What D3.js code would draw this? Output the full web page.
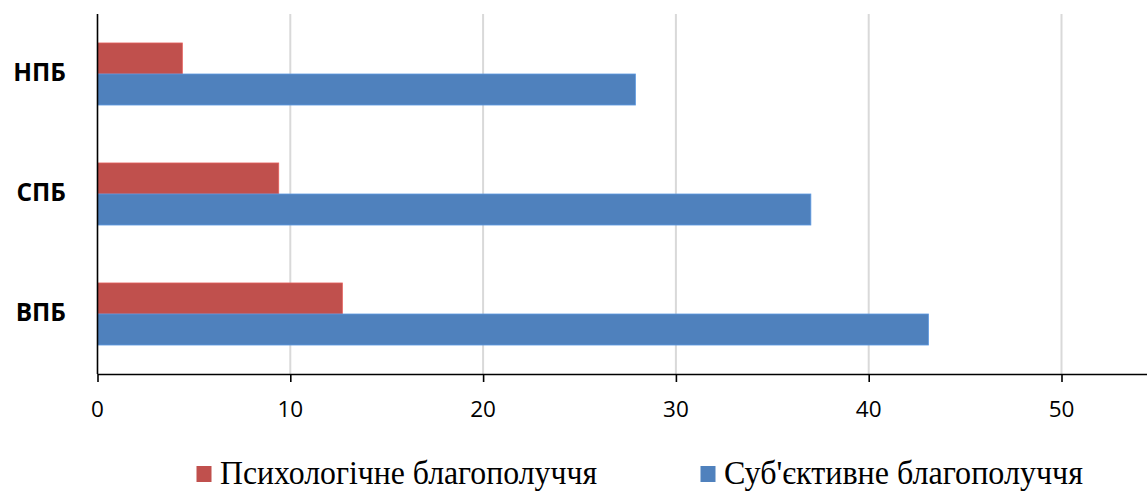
<!DOCTYPE html>
<html>
  <head>
    <meta charset="utf-8">
    <title>Благополуччя</title>
    <script src="https://cdn.jsdelivr.net/npm/d3@7"></script>
    <style>
      body { margin: 0; background: #fff; }
      #chart { display: block; }
      .grid line { stroke: #d9d9d9; stroke-width: 2; }
      .axis path, .axis line { stroke: #000; stroke-width: 1.6; }
      .xlabels text { font-family: "Open Sans", sans-serif; font-size: 22.5px; fill: #000; }
      .ylabels text { font-family: "Open Sans", sans-serif; font-size: 24.5px; font-weight: bold; fill: #000; }
      .legend text { font-family: "Liberation Serif", serif; font-size: 33px; fill: #000; }
    </style>
  </head>
  <body>
    <svg id="chart" width="1147" height="492"></svg>

    <script>
      // data
      categories = ["НПБ", "СПБ", "ВПБ"];
      seriesNames = ["Психологічне благополуччя", "Суб'єктивне благополуччя"];
      psychological = [4.4, 9.4, 12.7];
      subjective = [27.9, 37.0, 43.1];
      xTicks = [0, 10, 20, 30, 40, 50];
      colors = ["#c0504d", "#4f81bd"];

      chart = d3.select("#chart");
      margin = { top: 14, bottom: 118, left: 97.5 };
      height = 492;

      // axis runs past the right edge (60 is off-canvas)
      x = d3.scaleLinear()
        .domain([0, 60])
        .range([margin.left, margin.left + 60 * 19.28]);
      y = d3.scaleBand()
        .domain(categories)
        .range([margin.top, height - margin.bottom])
        .paddingInner(0.483)
        .paddingOuter(0.2415);
      ySub = d3.scaleBand()
        .domain([0, 1])
        .range([0, y.bandwidth()]);

      // gridlines
      chart.append("g")
        .attr("class", "grid")
        .selectAll("line")
        .data(xTicks.filter(d => d > 0))
        .join("line")
          .attr("x1", d => x(d))
          .attr("x2", d => x(d))
          .attr("y1", margin.top)
          .attr("y2", height - margin.bottom);

      // bars
      rows = categories.map((c, i) => ({ cat: c, values: [psychological[i], subjective[i]] }));
      chart.append("g")
        .selectAll("g")
        .data(rows)
        .join("g")
          .attr("transform", d => "translate(0," + y(d.cat) + ")")
        .selectAll("rect")
        .data(d => d.values.map((v, k) => ({ v, k })))
        .join("rect")
          .attr("x", x(0))
          .attr("y", d => ySub(d.k))
          .attr("width", d => x(d.v) - x(0))
          .attr("height", ySub.bandwidth())
          .attr("fill", d => colors[d.k])
          .attr("stroke", d => d3.color(colors[d.k]).brighter(0.5))
          .attr("stroke-width", 0.8);

      // x axis
      xAxis = d3.axisBottom(x)
        .tickValues(xTicks)
        .tickFormat("")
        .tickSize(8)
        .tickSizeOuter(0);
      chart.append("g")
        .attr("class", "axis")
        .attr("transform", "translate(0," + (height - margin.bottom) + ")")
        .call(xAxis);
      chart.append("g")
        .attr("class", "xlabels")
        .selectAll("text")
        .data(xTicks)
        .join("text")
          .attr("x", d => x(d))
          .attr("y", 417)
          .attr("text-anchor", "middle")
          .text(d => d);

      // y axis
      chart.append("line")
        .attr("x1", x(0))
        .attr("x2", x(0))
        .attr("y1", margin.top)
        .attr("y2", height - margin.bottom)
        .attr("stroke", "#000")
        .attr("stroke-width", 1.6);
      chart.append("g")
        .attr("class", "ylabels")
        .selectAll("text")
        .data(categories)
        .join("text")
          .attr("x", 66)
          .attr("y", d => y(d) + y.bandwidth() / 2)
          .attr("dy", "0.3em")
          .attr("text-anchor", "end")
          .text(d => d);

      // legend
      legendX = [196.5, 700.5];
      legendWidth = [377, 359];
      legend = chart.append("g")
        .attr("class", "legend")
        .selectAll("g")
        .data(seriesNames)
        .join("g")
          .attr("transform", (d, i) => "translate(" + legendX[i] + ",0)");
      legend.append("rect")
        .attr("x", 0)
        .attr("y", 466)
        .attr("width", 15)
        .attr("height", 16)
        .attr("fill", (d, i) => colors[i]);
      legend.append("text")
        .attr("x", 23.5)
        .attr("y", 484)
        .attr("textLength", (d, i) => legendWidth[i])
        .attr("lengthAdjust", "spacingAndGlyphs")
        .text(d => d);
    </script>
  </body>
</html>
